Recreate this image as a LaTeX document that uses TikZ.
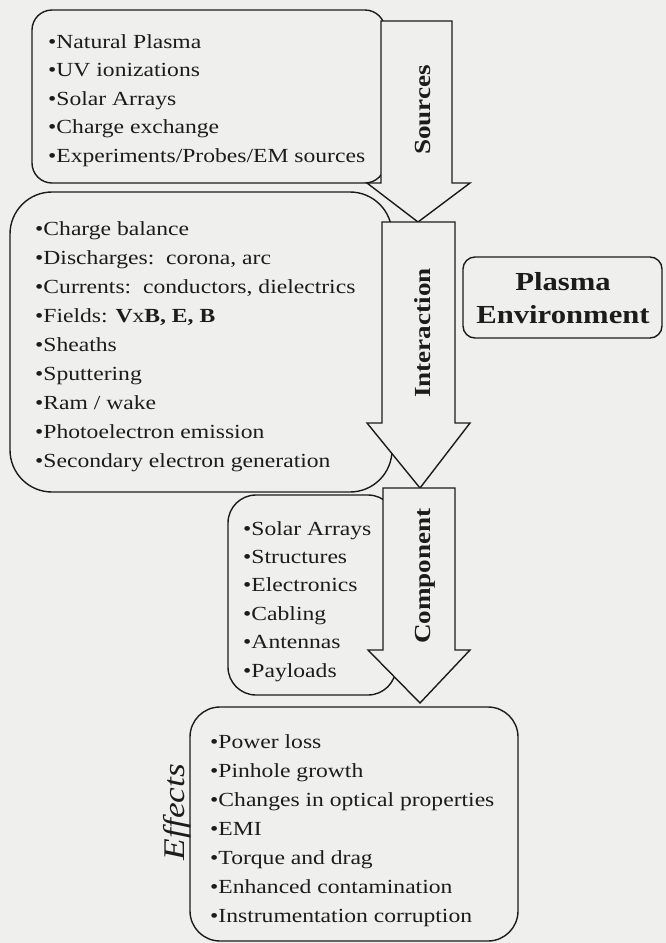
\documentclass[tikz,border=0pt]{standalone}
\usepackage{fontspec}
\setmainfont{Liberation Serif}[FakeStretch=1.18]
\definecolor{bg}{RGB}{239,239,237}
\definecolor{ink}{RGB}{28,28,28}
\tikzset{
  listbox/.style={draw=ink, line width=1.4pt},
  blockarrow/.style={draw=ink, fill=bg, line width=1.4pt, line join=miter},
  listtext/.style={anchor=north west, inner sep=0pt, align=left, text=ink},
  arrowlabel/.style={rotate=90, anchor=base, inner sep=0pt, text=ink, font=\fontsize{23}{26}\selectfont\bfseries},
}
\begin{document}
\begin{tikzpicture}[x=1pt,y=-1pt]
\fill[bg] (0,0) rectangle (666,943);
\useasboundingbox (0,0) rectangle (666,943);
% list boxes
\draw[listbox, rounded corners=20pt] (32,10) rectangle (385,183);
\draw[listbox, rounded corners=42pt] (10,192) rectangle (392,492);
\draw[listbox, rounded corners=28pt] (228,495) rectangle (396,695);
\draw[listbox, rounded corners=30pt] (190,707) rectangle (518,941);
\draw[listbox, rounded corners=12pt] (463,257) rectangle (662,338);
% block arrows
\draw[blockarrow] (381,21) -- (452,21) -- (452,183) -- (470,183) -- (418,222) -- (367,183) -- (381,183) -- cycle;
\draw[blockarrow] (382,222) -- (455,222) -- (455,423) -- (470,423) -- (420,488) -- (367,423) -- (382,423) -- cycle;
\draw[blockarrow] (383,488) -- (455,488) -- (455,650) -- (470,650) -- (420,703) -- (368,650) -- (383,650) -- cycle;
% arrow labels
\node[arrowlabel] (lsrc) at (430,110) {Sources};
\node[arrowlabel] (lint) at (430,333) {Interaction};
\node[arrowlabel] (lcomp) at (430,576) {Component};
% lists
\node[listtext, font=\fontsize{20}{28.5}\selectfont] (src) at (48,34.3) {%
•Natural Plasma\\
•UV ionizations\\
•Solar Arrays\\
•Charge exchange\\
•Experiments/Probes/EM sources};
\node[listtext, font=\fontsize{20}{29}\selectfont] (int) at (35,221) {%
•Charge balance\\
•Discharges:\ \ corona, arc\\
•Currents:\ \ conductors, dielectrics\\
•Fields: \textbf{V}x\textbf{B, E, B}\\
•Sheaths\\
•Sputtering\\
•Ram / wake\\
•Photoelectron emission\\
•Secondary electron generation};
\node[listtext, font=\fontsize{20}{28.4}\selectfont] (comp) at (243,521) {%
•Solar Arrays\\
•Structures\\
•Electronics\\
•Cabling\\
•Antennas\\
•Payloads};
\node[listtext, font=\fontsize{20}{29}\selectfont] (eff) at (210,734) {%
•Power loss\\
•Pinhole growth\\
•Changes in optical properties\\
•EMI\\
•Torque and drag\\
•Enhanced contamination\\
•Instrumentation corruption};
% side labels
\node[rotate=90, anchor=base, inner sep=0pt, text=ink, font=\fontsize{30}{34}\selectfont\itshape] (effl) at (184,812) {Effects};
\node[align=center, inner sep=0pt, text=ink, font=\fontsize{26}{33}\selectfont\bfseries] (env) at (563,298) {Plasma\\Environment};
\end{tikzpicture}
\end{document}
